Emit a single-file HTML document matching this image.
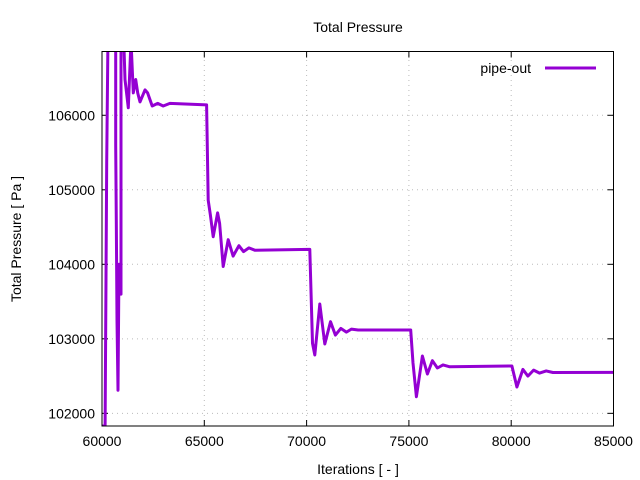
<!DOCTYPE html>
<html><head><meta charset="utf-8"><style>
body{margin:0;background:#fff;}
svg{display:block;font-family:"Liberation Sans",sans-serif;}
</style></head><body>
<svg id="chart" width="640" height="480" viewBox="0 0 640 480">
<defs><clipPath id="clip"><rect x="102" y="51.5" width="511.5" height="374.5"/></clipPath></defs>
<text x="358" y="32" text-anchor="middle" font-size="14">Total Pressure</text>
<g id="grid"></g>
<g id="ticks"></g>
<g id="xlabels"></g>
<g id="ylabels"></g>
<g clip-path="url(#clip)"><path id="series" fill="none" stroke="#9400D3" stroke-width="3" stroke-linejoin="round"/></g>
<rect x="102" y="51.5" width="511.5" height="374.5" fill="none" stroke="#000" stroke-width="1"/>
<text x="358" y="474" text-anchor="middle" font-size="14">Iterations [ - ]</text>
<text transform="translate(21,239) rotate(-90)" text-anchor="middle" font-size="14">Total Pressure [ Pa ]</text>
<g>
<text x="531" y="73" text-anchor="end" font-size="14">pipe-out</text>
<line x1="545" y1="68" x2="596" y2="68" stroke="#9400D3" stroke-width="3"/>
</g>
</svg>
<script>
const xTicks=[60000,65000,70000,75000,80000,85000];
const yTicks=[102000,103000,104000,105000,106000];
const iterations=[60000,60150,60229,60229,60308,60669,60669,60700,60732,60780,60830,60928,60928,61040,61123,61285,61416,61530,61645,61743,61855,62100,62230,62456,62720,62993,63320,65112,65190,65300,65435,65650,65750,65923,66168,66410,66690,66918,67178,67470,70107,70156,70288,70400,70645,70890,71166,71410,71670,71946,72190,72516,75088,75200,75366,75660,75903,76148,76392,76667,77000,80036,80280,80573,80818,81095,81388,81713,82040,85000];
const pressure=[101830,101830,105360,105360,107500,107500,105590,104590,103250,102310,104000,103600,107500,107200,106480,106100,107000,106300,106480,106300,106180,106340,106300,106125,106160,106125,106160,106140,104860,104660,104370,104690,104550,103970,104330,104110,104250,104170,104220,104190,104200,104200,102940,102783,103467,102930,103230,103050,103140,103090,103130,103118,103118,102675,102223,102770,102528,102706,102608,102650,102625,102635,102353,102590,102500,102580,102540,102570,102548,102550];
const X0=102,X1=613.5,Y0=426,Y1=51.5,XMIN=60000,XMAX=85000,YMIN=101830,YMAX=106856;
const xs=v=>X0+(v-XMIN)/(XMAX-XMIN)*(X1-X0);
const ys=v=>Y0-(v-YMIN)/(YMAX-YMIN)*(Y0-Y1);
const NS='http://www.w3.org/2000/svg';
function mk(tag,attrs,parent){const e=document.createElementNS(NS,tag);for(const k in attrs)e.setAttribute(k,attrs[k]);document.getElementById(parent).appendChild(e);return e;}
xTicks.forEach(t=>{const x=xs(t);
 if(t>XMIN&&t<XMAX){const g=mk('line',{x1:x,y1:Y0,x2:x,y2:Y1,stroke:'#bbb','stroke-dasharray':'1,4'},'grid');}
 const a=mk('line',{x1:x,y1:Y0,x2:x,y2:Y0-6,stroke:'#000'},'ticks');
 const b=mk('line',{x1:x,y1:Y1,x2:x,y2:Y1+6,stroke:'#000'},'ticks');
 const l=mk('text',{x:x,y:446,'text-anchor':'middle','font-size':'14'},'xlabels');l.textContent=t;});
yTicks.forEach(t=>{const y=ys(t);
 const g=mk('line',{x1:X0,y1:y,x2:X1,y2:y,stroke:'#bbb','stroke-dasharray':'1,4'},'grid');
 const a=mk('line',{x1:X0,y1:y,x2:X0+6,y2:y,stroke:'#000'},'ticks');
 const b=mk('line',{x1:X1,y1:y,x2:X1-6,y2:y,stroke:'#000'},'ticks');
 const l=mk('text',{x:95,y:y+5,'text-anchor':'end','font-size':'14'},'ylabels');l.textContent=t;});
document.getElementById('series').setAttribute('d',iterations.map((v,i)=>(i?'L':'M')+xs(v).toFixed(1)+','+ys(pressure[i]).toFixed(1)).join(''));
</script>
</body></html>
